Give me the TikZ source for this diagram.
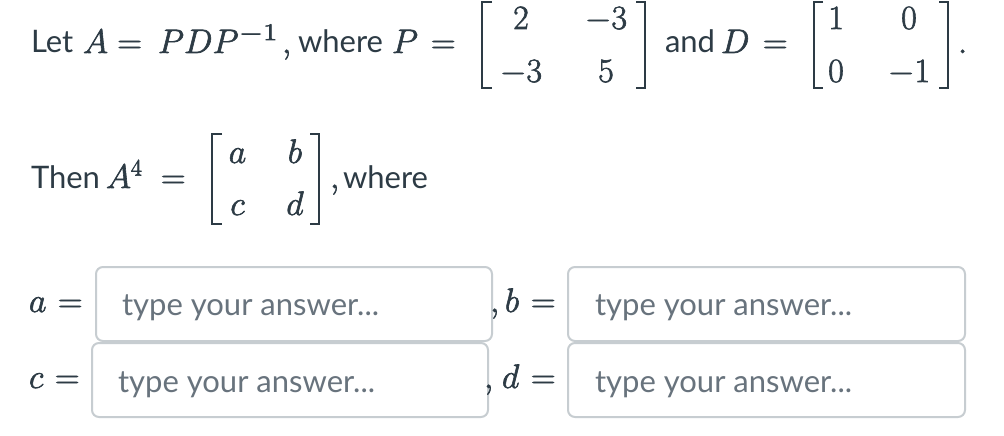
\RequirePackage{fix-cm}
\documentclass[tikz,border=0pt]{standalone}
\usepackage[no-math]{fontspec}
\setmainfont{Lato}
\definecolor{ink}{HTML}{2D3B45}
\definecolor{hint}{HTML}{68737D}
\definecolor{frame}{HTML}{C7CDD1}
\newcommand\txtsize{\fontsize{31}{38}\selectfont}
\newcommand\mthsize{\fontsize{34}{40}\selectfont}
\newcommand\supsize{\fontsize{23.8}{28}\selectfont}
\newcommand\heavyon{\special{pdf:literal 2 Tr 0.6 w}}
\newcommand\heavyoff{\special{pdf:literal 0 Tr}}
\tikzset{
  txt/.style={inner sep=0pt, outer sep=0pt, anchor=base west, text=ink, font=\txtsize},
  mth/.style={inner sep=0pt, outer sep=0pt, anchor=base west, text=ink, font=\mthsize,
    execute at begin node=\heavyon, execute at end node=\heavyoff},
  ent/.style={mth, anchor=base},
  brk/.style={draw=ink, line width=2.6pt, line cap=butt, line join=miter},
  ansbox/.style={draw=frame, line width=2pt, rounded corners=7pt, fill=white},
  hinttxt/.style={inner sep=0pt, outer sep=0pt, anchor=base west, text=hint, font=\txtsize}
}
\begin{document}
\begin{tikzpicture}[x=1pt,y=-1pt]
\useasboundingbox[fill=white] (0,0) rectangle (1004,436);
% row 1
\node[txt] (let) at (31,53) {Let};
\node[mth] (eqA) at (83,53) {$A =$};
\node[mth] (pdp) at (158,53) {$PDP$};
\node[mth] (inv) at (239,40) {\scalebox{1.3}[1]{\supsize$-1$}};
\node[mth] (c1) at (282,53) {$,$};
\node[txt] (wh1) at (298,53) {where};
\node[mth] (vP) at (392,53) {$P$};
\node[mth] (eqP) at (431,53) {$=$};
\node[ent] (p11) at (521,29) {$2$};
\node[ent] (p12) at (606,29) {$-3$};
\node[ent] (p21) at (521,82) {$-3$};
\node[ent] (p22) at (606,82) {$5$};
\draw[brk] (492,2) -- (482,2) -- (482,88) -- (492,88);
\draw[brk] (636,2) -- (645,2) -- (645,88) -- (636,88);
\node[txt] (and) at (665,53) {and};
\node[mth] (vD) at (721,53) {$D$};
\node[mth] (eqD) at (763,53) {$=$};
\node[ent] (d11) at (836,29) {$1$};
\node[ent] (d12) at (909,29) {$0$};
\node[ent] (d21) at (836,82) {$0$};
\node[ent] (d22) at (909,82) {$-1$};
\draw[brk] (823,2) -- (814,2) -- (814,88) -- (823,88);
\draw[brk] (939,2) -- (948,2) -- (948,88) -- (939,88);
\node[mth] (dot) at (958,53) {$.$};
% row 2
\node[txt] (then) at (31,188) {Then};
\node[mth] (A4) at (106,188) {$A^4$};
\node[mth] (eqA4) at (161,188) {$=$};
\node[ent] (ma) at (237.5,163) {$a$};
\node[ent] (mb) at (295,163) {$b$};
\node[ent] (mc) at (237.5,215) {$c$};
\node[ent] (md) at (295,215) {$d$};
\draw[brk] (222,134) -- (212,134) -- (212,224) -- (222,224);
\draw[brk] (310,134) -- (319,134) -- (319,224) -- (310,224);
\node[mth] (c2) at (330,188) {$,$};
\node[txt] (wh2) at (343,188) {where};
% row 3
\node[mth] (la) at (29,312) {$a$};
\node[mth] (eqa) at (58,312) {$=$};
\draw[ansbox] (96,267) rectangle (492,341);
\node[hinttxt] (ha) at (122,315) {type your answer...};
\node[mth] (cb) at (490,312) {$,$};
\node[mth] (lb) at (505,312) {$b$};
\draw[ansbox] (568,267) rectangle (965,341);
\node[mth] (eqb) at (531,312) {$=$};
\node[hinttxt] (hb) at (595,315) {type your answer...};
% row 4
\node[mth] (lc) at (29,388) {$c$};
\node[mth] (eqc) at (55,388) {$=$};
\draw[ansbox] (92,343) rectangle (488,417);
\node[hinttxt] (hc) at (118,392) {type your answer...};
\node[mth] (cd) at (484,388) {$,$};
\node[mth] (ld) at (502,388) {$d$};
\node[mth] (eqd) at (531,388) {$=$};
\draw[ansbox] (568,343) rectangle (965,417);
\node[hinttxt] (hd) at (595,392) {type your answer...};
\end{tikzpicture}
\end{document}
